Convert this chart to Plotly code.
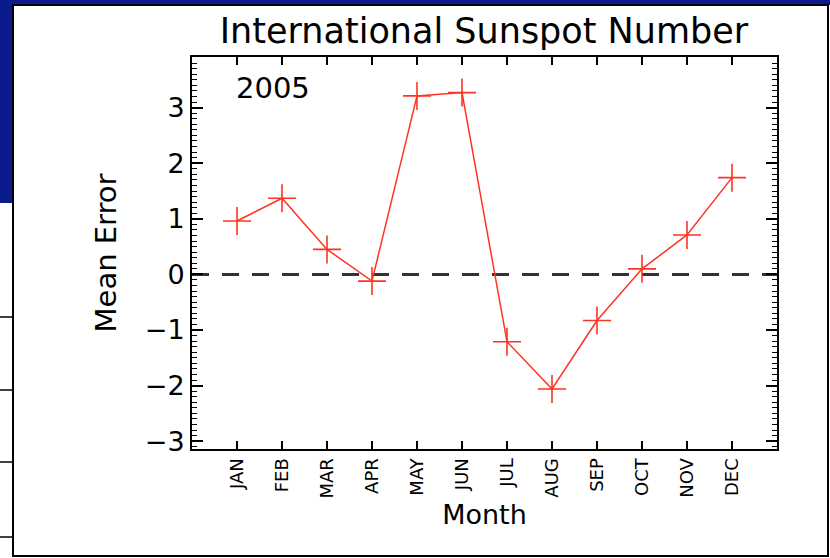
import plotly.graph_objects as go

months = ["JAN", "FEB", "MAR", "APR", "MAY", "JUN", "JUL", "AUG", "SEP", "OCT", "NOV", "DEC"]
month_pos = [1, 2, 3, 4, 5, 6, 7, 8, 9, 10, 11, 12]
mean_error = [0.96, 1.37, 0.45, -0.12, 3.21, 3.27, -1.21, -2.06, -0.83, 0.10, 0.71, 1.74]
y_ticks = [-3, -2, -1, 0, 1, 2, 3]
y_range = [-3.14, 3.91]

W, H = 830, 558
L, R, T, B = 192, 777, 57, 449

def px(x):
    return (x - L) / (R - L)

def py(y):
    return (B - y) / (B - T)

NAVY = "#0B1A8C"
FONT = "DejaVu Sans"

fig = go.Figure()

fig.add_trace(go.Scatter(
    x=[0, 13], y=[0, 0], mode="lines",
    line=dict(color="#333333", width=3, dash="17px,13px"),
    hoverinfo="skip", showlegend=False,
))

fig.add_trace(go.Scatter(
    x=month_pos, y=mean_error, mode="lines+markers",
    line=dict(color="#FF3322", width=1.5),
    marker=dict(symbol="cross-thin", size=20, line=dict(color="#FF3322", width=1.6)),
    showlegend=False,
))

fig.add_trace(go.Scatter(
    x=[0], y=[0], yaxis="y2", mode="markers", marker=dict(opacity=0),
    hoverinfo="skip", showlegend=False,
))

shapes = [
    # white background below the blue band (right & bottom edges)
    dict(type="rect", xref="paper", yref="paper", x0=px(13), x1=px(840), y0=py(570), y1=py(5),
         fillcolor="white", line=dict(width=0), layer="below"),
    dict(type="rect", xref="paper", yref="paper", x0=px(-5), x1=px(840), y0=py(570), y1=py(556),
         fillcolor="white", line=dict(width=0), layer="below"),
    dict(type="rect", xref="paper", yref="paper", x0=px(-5), x1=px(13), y0=py(556), y1=py(203),
         fillcolor="white", line=dict(width=0), layer="below"),
    # framed image panel
    dict(type="rect", xref="paper", yref="paper", x0=px(13), x1=px(828), y0=py(556), y1=py(5),
         fillcolor="white", line=dict(color="black", width=2), layer="below"),
]
for yy in [317, 390, 462, 537]:
    shapes.append(dict(type="line", xref="paper", yref="paper", x0=px(0), x1=px(13), y0=py(yy), y1=py(yy),
                       line=dict(color="black", width=1.5), layer="below"))

fig.update_layout(
    width=W, height=H,
    margin=dict(l=L, r=W - R, t=T, b=H - B, pad=0),
    paper_bgcolor=NAVY,
    plot_bgcolor="white",
    shapes=shapes,
    font=dict(family=FONT, color="black"),
    title=dict(text="International Sunspot Number", xref="container", x=484 / W, xanchor="center",
               yref="container", y=1 - 31 / H, yanchor="middle",
               font=dict(size=35, color="black", family=FONT)),
    xaxis=dict(
        range=[0, 13], tickmode="array", tickvals=month_pos, ticktext=months,
        tickangle=-90, tickfont=dict(size=18, family=FONT),
        ticks="inside", ticklen=8, tickwidth=1.5, tickcolor="black",
        showline=True, linecolor="black", linewidth=2, mirror="ticks",
        showgrid=False, zeroline=False,
        title=dict(text="Month", font=dict(size=27, family=FONT), standoff=8),
    ),
    yaxis=dict(
        range=y_range, tickmode="array", tickvals=y_ticks,
        tickfont=dict(size=27, family=FONT),
        ticks="inside", ticklen=11, tickwidth=1.5, tickcolor="black",
        minor=dict(ticks="inside", ticklen=5, dtick=0.1, tickwidth=1, tickcolor="black", showgrid=False),
        showline=True, linecolor="black", linewidth=2, mirror=True,
        showgrid=False, zeroline=False,
        title=dict(text="Mean Error", font=dict(size=29, family=FONT), standoff=20),
    ),
    yaxis2=dict(
        overlaying="y", side="right", range=y_range, tickmode="array", tickvals=y_ticks,
        showticklabels=False,
        ticks="inside", ticklen=11, tickwidth=1.5, tickcolor="black",
        minor=dict(ticks="inside", ticklen=5, dtick=0.1, tickwidth=1, tickcolor="black", showgrid=False),
        showline=False, showgrid=False, zeroline=False,
    ),
    annotations=[
        dict(text="2005", xref="paper", yref="paper", x=px(234), y=py(88),
             xanchor="left", yanchor="middle", showarrow=False,
             font=dict(size=29, family=FONT, color="black")),
    ],
)

fig.write_html("out.html", config={"displayModeBar": False},
               post_script="document.body.style.margin='0';")
